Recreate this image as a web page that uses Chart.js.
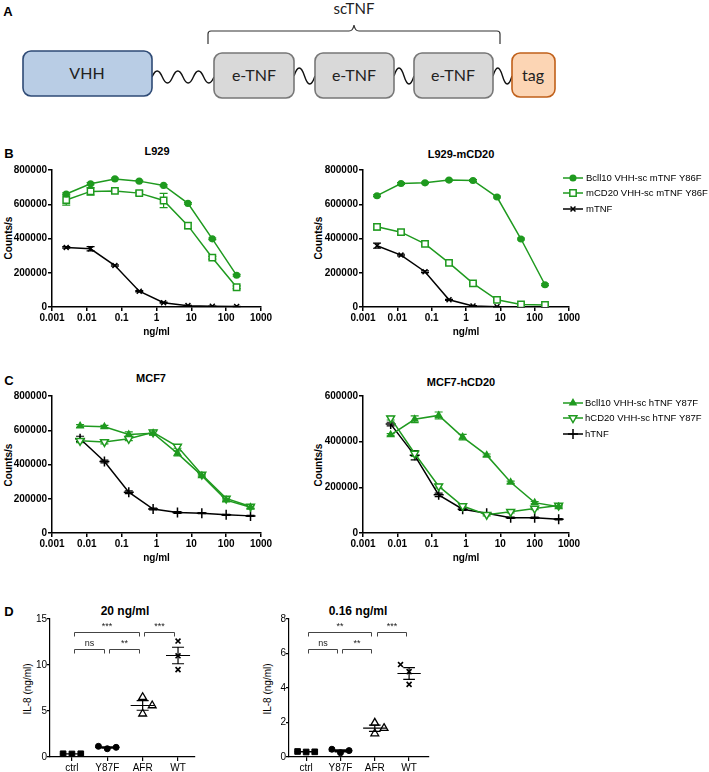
<!DOCTYPE html>
<html>
<head>
<meta charset="utf-8">
<script src="https://cdn.jsdelivr.net/npm/chart.js@4.4.1/dist/chart.umd.min.js"></script>
<style>
  body { margin: 0; background: #fff; width: 709px; height: 772px; position: relative; overflow: hidden; font-family: "Liberation Sans", Arial, sans-serif; }
  canvas { position: absolute; }
  .lbl { position: absolute; transform: translate(-50%, -50%); white-space: nowrap; color: #000; }
  .panel { font-weight: bold; font-size: 13px; }
  .ttl { font-weight: bold; font-size: 11px; }
  .ttl2 { font-weight: bold; font-size: 12px; }
  .yt { position: absolute; transform: translate(-50%, -50%) rotate(-90deg); white-space: nowrap; color: #000; }
  .yb { font-weight: bold; font-size: 10px; }
  .yr { font-size: 10px; }
  #schema { position: absolute; left: 0; top: 0; }
</style>
</head>
<body>

<svg id="schema" width="709" height="110" xmlns="http://www.w3.org/2000/svg">
  <text x="354" y="14" text-anchor="middle" font-family="Lato" font-size="15" fill="#222">scTNF</text>
  <path d="M208,44 L208,34 Q208,31 211,31 L349,31 Q353,31 354,25 Q355,31 359,31 L497,31 Q500,31 500,34 L500,44" fill="none" stroke="#333" stroke-width="1.2"/>
  <g id="waves" fill="none" stroke="#111" stroke-width="1.4"></g>
  <rect x="23" y="51" width="129" height="45" rx="8" fill="#b9cde5" stroke="#2e4a75" stroke-width="1.6"/>
  <rect x="214" y="53" width="80" height="45" rx="8" fill="#d9d9d9" stroke="#777" stroke-width="1.6"/>
  <rect x="315" y="53" width="79" height="45" rx="8" fill="#d9d9d9" stroke="#777" stroke-width="1.6"/>
  <rect x="414" y="53" width="79" height="45" rx="8" fill="#d9d9d9" stroke="#777" stroke-width="1.6"/>
  <rect x="512" y="53" width="43" height="44" rx="8" fill="#fcd5b4" stroke="#c0601a" stroke-width="1.6"/>
  <g font-family="Lato" font-size="16" fill="#222" text-anchor="middle">
    <text x="87" y="79">VHH</text>
    <text x="254" y="81">e-TNF</text>
    <text x="354" y="81">e-TNF</text>
    <text x="453" y="81">e-TNF</text>
    <text x="533" y="81">tag</text>
  </g>
</svg>

<div class="lbl panel" style="left:8px;top:11px">A</div>
<div class="lbl panel" style="left:9px;top:153px">B</div>
<div class="lbl panel" style="left:9px;top:380px">C</div>
<div class="lbl panel" style="left:9px;top:611px">D</div>

<div class="lbl ttl" style="left:157px;top:151px">L929</div>
<div class="lbl ttl" style="left:461px;top:154px">L929-mCD20</div>
<div class="lbl ttl" style="left:151px;top:378px">MCF7</div>
<div class="lbl ttl" style="left:461px;top:382px">MCF7-hCD20</div>
<div class="lbl ttl2" style="left:125px;top:611px">20 ng/ml</div>
<div class="lbl ttl2" style="left:358px;top:611px">0.16 ng/ml</div>

<div class="yt yb" style="left:8px;top:238px">Counts/s</div>
<div class="yt yb" style="left:318px;top:238px">Counts/s</div>
<div class="yt yb" style="left:8px;top:465px">Counts/s</div>
<div class="yt yb" style="left:318px;top:465px">Counts/s</div>
<div class="yt yr" style="left:27px;top:689px">IL-8 (ng/ml)</div>
<div class="yt yr" style="left:267px;top:689px">IL-8 (ng/ml)</div>

<canvas id="bLeft" width="290" height="200" style="left:0;top:140px"></canvas>
<canvas id="bRight" width="409" height="200" style="left:300px;top:140px"></canvas>
<canvas id="cLeft" width="290" height="200" style="left:0;top:366px"></canvas>
<canvas id="cRight" width="409" height="200" style="left:300px;top:366px"></canvas>
<canvas id="dLeft" width="215" height="172" style="left:0;top:600px"></canvas>
<canvas id="dRight" width="210" height="172" style="left:240px;top:600px"></canvas>

<script>
// doses (ng/ml), 5-fold dilutions
const doseB = [0.00256, 0.0128, 0.064, 0.32, 1.6, 8, 40, 200];
const doseC = [0.0064, 0.032, 0.16, 0.8, 4, 20, 100, 500];
const logTicks = [0.001, 0.01, 0.1, 1, 10, 100, 1000];

// B - L929
const l929Bcl10 = [660000, 720000, 748000, 735000, 710000, 605000, 398000, 185000];
const l929Bcl10Err = [6000, 6000, 5000, 5000, 5000, 5000, 5000, 5000];
const l929MCD20 = [625000, 675000, 678000, 665000, 622000, 475000, 288000, 115000];
const l929MCD20Err = [30000, 22000, 8000, 12000, 42000, 18000, 8000, 8000];
const l929MTNF = [348000, 340000, 242000, 92000, 25000, 8000, 4000, 3000];
const l929MTNFErr = [4000, 12000, 4000, 4000, 3000, 2000, 1000, 1000];

// B - L929-mCD20
const mcd20Bcl10 = [650000, 721000, 725000, 741000, 739000, 642000, 397000, 130000];
const mcd20Bcl10Err = [5000, 5000, 5000, 5000, 5000, 5000, 5000, 5000];
const mcd20MCD20 = [468000, 437000, 369000, 258000, 138000, 42000, 15000, 12000];
const mcd20MCD20Err = [18000, 15000, 8000, 10000, 6000, 5000, 3000, 3000];
const mcd20MTNF = [358000, 303000, 206000, 42000, 6000, 1500, 1000, 1000];
const mcd20MTNFErr = [15000, 5000, 5000, 3000, 2000, 1000, 1000, 1000];

// C - MCF7
const mcf7Bcl10 = [625000, 620000, 575000, 583000, 465000, 335000, 192000, 150000];
const mcf7Bcl10Err = [8000, 8000, 15000, 10000, 15000, 8000, 8000, 8000];
const mcf7HCD20 = [538000, 532000, 550000, 588000, 505000, 342000, 202000, 155000];
const mcf7HCD20Err = [10000, 12000, 10000, 12000, 10000, 8000, 10000, 10000];
const mcf7HTNF = [550000, 418000, 238000, 140000, 120000, 116000, 106000, 100000];
const mcf7HTNFErr = [15000, 8000, 8000, 5000, 5000, 3000, 3000, 3000];

// C - MCF7-hCD20
const hcd20Bcl10 = [430000, 498000, 515000, 420000, 341000, 222000, 133000, 115000];
const hcd20Bcl10Err = [5000, 15000, 15000, 12000, 5000, 5000, 5000, 5000];
const hcd20HCD20 = [503000, 348000, 205000, 118000, 80000, 93000, 107000, 120000];
const hcd20HCD20Err = [8000, 12000, 8000, 5000, 5000, 5000, 5000, 5000];
const hcd20HTNF = [477000, 340000, 167000, 104000, 86000, 67000, 67000, 60000];
const hcd20HTNFErr = [8000, 20000, 8000, 5000, 3000, 3000, 3000, 3000];

// D - IL-8 (ng/ml), three replicates per group
const groupsD = ['ctrl', 'Y87F', 'AFR', 'WT'];
const il8At20 = [[0.35, 0.33, 0.35], [1.16, 0.9, 1.05], [6.5, 5.6, 4.7], [12.6, 11.0, 9.5]];
const il8At016 = [[0.32, 0.29, 0.3], [0.45, 0.25, 0.37], [1.98, 1.67, 1.36], [5.36, 4.95, 4.21]];
const sig20 = [
  { a: 0, b: 2, text: '***', y: 13.6 },
  { a: 0, b: 1, text: 'ns', y: 11.7 },
  { a: 1, b: 2, text: '**', y: 11.7 },
  { a: 2, b: 3, text: '***', y: 13.6 }
];
const sig016 = [
  { a: 0, b: 2, text: '**', y: 7.25 },
  { a: 0, b: 1, text: 'ns', y: 6.26 },
  { a: 1, b: 2, text: '**', y: 6.26 },
  { a: 2, b: 3, text: '***', y: 7.25 }
];

const GREEN = '#1f9a1f';
Chart.defaults.font.family = '"Liberation Sans", Arial, sans-serif';
Chart.defaults.color = '#000';

// linker squiggles in the schematic
function wave(x1, x2, y, periods, amp) {
  const h = (x2 - x1) / (periods * 2);
  let d = 'M' + x1 + ',' + y;
  for (let i = 0; i < periods * 2; i++) {
    const sx = x1 + i * h;
    const dir = i % 2 === 0 ? -1 : 1;
    d += ' Q' + (sx + h / 2) + ',' + (y + dir * amp * 2) + ' ' + (sx + h) + ',' + y;
  }
  return d;
}
const wg = document.getElementById('waves');
[[152, 214, 77, 3, 6], [294, 315, 76, 1, 8], [394, 414, 76, 1, 8], [493, 512, 76, 1, 8]].forEach(w => {
  const p = document.createElementNS('http://www.w3.org/2000/svg', 'path');
  p.setAttribute('d', wave(w[0], w[1], w[2], w[3], w[4]));
  wg.appendChild(p);
});

// error bars (SEM) drawn under the markers
const errorBars = {
  id: 'errorBars',
  beforeDatasetsDraw(chart) {
    const { ctx, scales: { x, y } } = chart;
    chart.data.datasets.forEach(ds => {
      if (!ds.errors) return;
      ctx.save();
      ctx.strokeStyle = ds.borderColor;
      ctx.lineWidth = 1.2;
      ds.data.forEach((p, i) => {
        const e = ds.errors[i];
        const px = x.getPixelForValue(p.x);
        const t = y.getPixelForValue(p.y + e), b = y.getPixelForValue(p.y - e);
        ctx.beginPath();
        ctx.moveTo(px, t); ctx.lineTo(px, b);
        ctx.moveTo(px - 4, t); ctx.lineTo(px + 4, t);
        ctx.moveTo(px - 4, b); ctx.lineTo(px + 4, b);
        ctx.stroke();
      });
      ctx.restore();
    });
  }
};

function sideLegend(lx, ys, tx) {
  return {
    id: 'sideLegend',
    afterDraw(chart) {
      const ctx = chart.ctx;
      ctx.save();
      ctx.font = '9.5px "Liberation Sans", Arial, sans-serif';
      ctx.textBaseline = 'middle';
      chart.data.datasets.forEach((ds, i) => {
        const y = ys[i];
        ctx.strokeStyle = ds.borderColor;
        ctx.lineWidth = 1.5;
        ctx.beginPath(); ctx.moveTo(lx, y); ctx.lineTo(lx + 20, y); ctx.stroke();
        ctx.fillStyle = ds.pointBackgroundColor;
        ctx.lineWidth = ds.pointBorderWidth;
        Chart.helpers.drawPoint(ctx, { pointStyle: ds.pointStyle, radius: ds.pointRadius, rotation: ds.pointRotation || 0, borderWidth: ds.pointBorderWidth }, lx + 10, y);
        ctx.fillStyle = '#000';
        ctx.fillText(ds.label, tx, y);
      });
      ctx.restore();
    }
  };
}

function series(label, dose, vals, errs, style) {
  return Object.assign({
    label: label,
    data: dose.map((d, i) => ({ x: d, y: vals[i] })),
    errors: errs,
    showLine: true,
    borderWidth: 1.5,
    pointBorderWidth: 1.5
  }, style);
}

const axisLine = { color: '#000', width: 1.5 };
const tickGrid = { drawOnChartArea: false, tickLength: 4, color: '#000', lineWidth: 1.5 };

function doseChart(id, datasets, yMax, yW, padRight, legend) {
  new Chart(document.getElementById(id), {
    type: 'scatter',
    data: { datasets: datasets },
    options: {
      responsive: false,
      animation: false,
      devicePixelRatio: 1,
      layout: { padding: { top: 30, right: padRight, bottom: 0, left: 0 } },
      plugins: { legend: { display: false }, tooltip: { enabled: false } },
      scales: {
        x: {
          type: 'logarithmic', min: 0.001, max: 1000,
          afterBuildTicks: s => { s.ticks = logTicks.map(v => ({ value: v })); },
          afterFit: s => { s.height = 33; },
          ticks: { autoSkip: false, maxRotation: 0, padding: 1, color: '#000', font: { weight: 'bold', size: 10 }, callback: v => String(v) },
          grid: tickGrid, border: axisLine,
          title: { display: true, text: 'ng/ml', color: '#000', font: { weight: 'bold', size: 10 }, padding: { top: 0, bottom: 2 } }
        },
        y: {
          min: 0, max: yMax,
          afterFit: s => { s.width = yW; },
          ticks: { stepSize: 200000, padding: 1, color: '#000', font: { weight: 'bold', size: 10 }, callback: v => String(v) },
          grid: tickGrid, border: axisLine
        }
      }
    },
    plugins: legend ? [errorBars, legend] : [errorBars]
  });
}

const bclStyleB = { borderColor: GREEN, pointBackgroundColor: GREEN, pointStyle: 'circle', pointRadius: 2.8 };
const cd20StyleB = { borderColor: GREEN, pointBackgroundColor: '#fff', pointStyle: 'rect', pointRadius: 4.5 };
const mtnfStyle = { borderColor: '#000', pointBackgroundColor: '#000', pointStyle: 'crossRot', pointRadius: 3.5 };
const bclStyleC = { borderColor: GREEN, pointBackgroundColor: GREEN, pointStyle: 'triangle', pointRadius: 3.5 };
const cd20StyleC = { borderColor: GREEN, pointBackgroundColor: '#fff', pointStyle: 'triangle', pointRotation: 180, pointRadius: 4.5 };
const htnfStyle = { borderColor: '#000', pointBackgroundColor: '#000', pointStyle: 'cross', pointRadius: 5 };

doseChart('bLeft', [
  series('Bcll10 VHH-sc mTNF Y86F', doseB, l929Bcl10, l929Bcl10Err, bclStyleB),
  series('mCD20 VHH-sc mTNF Y86F', doseB, l929MCD20, l929MCD20Err, cd20StyleB),
  series('mTNF', doseB, l929MTNF, l929MTNFErr, mtnfStyle)
], 800000, 52, 29);

doseChart('bRight', [
  series('Bcll10 VHH-sc mTNF Y86F', doseB, mcd20Bcl10, mcd20Bcl10Err, bclStyleB),
  series('mCD20 VHH-sc mTNF Y86F', doseB, mcd20MCD20, mcd20MCD20Err, cd20StyleB),
  series('mTNF', doseB, mcd20MTNF, mcd20MTNFErr, mtnfStyle)
], 800000, 63, 140, sideLegend(263, [38, 53, 69], 286));

doseChart('cLeft', [
  series('Bcll10 VHH-sc hTNF Y87F', doseC, mcf7Bcl10, mcf7Bcl10Err, bclStyleC),
  series('hCD20 VHH-sc hTNF Y87F', doseC, mcf7HCD20, mcf7HCD20Err, cd20StyleC),
  series('hTNF', doseC, mcf7HTNF, mcf7HTNFErr, htnfStyle)
], 800000, 52, 29);

doseChart('cRight', [
  series('Bcll10 VHH-sc hTNF Y87F', doseC, hcd20Bcl10, hcd20Bcl10Err, bclStyleC),
  series('hCD20 VHH-sc hTNF Y87F', doseC, hcd20HCD20, hcd20HCD20Err, cd20StyleC),
  series('hTNF', doseC, hcd20HTNF, hcd20HTNFErr, htnfStyle)
], 600000, 63, 140, sideLegend(263, [37, 52, 68], 285));

// D - column scatter with mean +/- SEM and significance brackets
const dStyles = [
  { pointStyle: 'rect', pointRadius: 4, pointBackgroundColor: '#000', pointBorderWidth: 1 },
  { pointStyle: 'circle', pointRadius: 3, pointBackgroundColor: '#000', pointBorderWidth: 1 },
  { pointStyle: 'triangle', pointRadius: 4.5, pointBackgroundColor: '#fff', pointBorderWidth: 1.3 },
  { pointStyle: 'crossRot', pointRadius: 3.5, pointBackgroundColor: '#000', pointBorderWidth: 1.6 }
];

function meanSem(chart) {
  const { ctx, scales: { x, y } } = chart;
  ctx.save();
  ctx.strokeStyle = '#000';
  ctx.lineWidth = 1.2;
  chart.data.datasets.forEach((ds, gi) => {
    const v = ds.data.map(p => p.y);
    const m = v.reduce((a, b) => a + b, 0) / v.length;
    const sd = Math.sqrt(v.reduce((a, b) => a + (b - m) * (b - m), 0) / (v.length - 1));
    const sem = sd / Math.sqrt(v.length);
    const ym = y.getPixelForValue(m), yt = y.getPixelForValue(m + sem), yb = y.getPixelForValue(m - sem);
    ctx.beginPath();
    ctx.moveTo(x.getPixelForValue(gi - 0.34), ym); ctx.lineTo(x.getPixelForValue(gi + 0.34), ym);
    const xc = x.getPixelForValue(gi), cl = x.getPixelForValue(gi - 0.17), cr = x.getPixelForValue(gi + 0.17);
    ctx.moveTo(xc, yt); ctx.lineTo(xc, yb);
    ctx.moveTo(cl, yt); ctx.lineTo(cr, yt);
    ctx.moveTo(cl, yb); ctx.lineTo(cr, yb);
    ctx.stroke();
  });
  ctx.restore();
}

function brackets(list) {
  return {
    id: 'brackets',
    afterDraw(chart) {
      const { ctx, scales: { x, y } } = chart;
      ctx.save();
      ctx.strokeStyle = '#444';
      ctx.lineWidth = 1;
      ctx.fillStyle = '#222';
      ctx.font = '9px "Liberation Sans", Arial, sans-serif';
      ctx.textAlign = 'center';
      ctx.textBaseline = 'bottom';
      list.forEach(s => {
        const x1 = Math.round(x.getPixelForValue(s.a + 0.05)) + 0.5;
        const x2 = Math.round(x.getPixelForValue(s.b - 0.1)) + 0.5;
        const yp = Math.round(y.getPixelForValue(s.y)) + 0.5;
        ctx.beginPath();
        ctx.moveTo(x1, yp + 4); ctx.lineTo(x1, yp); ctx.lineTo(x2, yp); ctx.lineTo(x2, yp + 4);
        ctx.stroke();
        ctx.fillText(s.text, (x1 + x2) / 2, yp - 1);
      });
      ctx.restore();
    }
  };
}

function il8Chart(id, values, jitter, sig, yMax, yStep, xMin, xMax, yW, padRight) {
  new Chart(document.getElementById(id), {
    type: 'scatter',
    data: {
      datasets: groupsD.map((g, gi) => Object.assign({
        label: g,
        data: values[gi].map((v, k) => ({ x: gi + jitter[gi][k], y: v })),
        borderColor: '#000'
      }, dStyles[gi]))
    },
    options: {
      responsive: false,
      animation: false,
      devicePixelRatio: 1,
      layout: { padding: { top: 19, right: padRight, bottom: 0, left: 0 } },
      plugins: { legend: { display: false }, tooltip: { enabled: false } },
      scales: {
        x: {
          type: 'linear', min: xMin, max: xMax,
          afterBuildTicks: s => { s.ticks = groupsD.map((g, i) => ({ value: i })); },
          afterFit: s => { s.height = 15; },
          ticks: { autoSkip: false, maxRotation: 0, padding: 1, color: '#000', font: { size: 10 }, callback: v => groupsD[v] },
          grid: { drawOnChartArea: false, tickLength: 4, color: '#000', lineWidth: 1.2 },
          border: { color: '#000', width: 1.2 }
        },
        y: {
          min: 0, max: yMax,
          afterFit: s => { s.width = yW; },
          ticks: { stepSize: yStep, padding: 0, color: '#000', font: { size: 10 } },
          grid: { drawOnChartArea: false, tickLength: 3, color: '#000', lineWidth: 1.2 },
          border: { color: '#000', width: 1.2 }
        }
      }
    },
    plugins: [{ id: 'meanSem', afterDatasetsDraw: meanSem }, brackets(sig)]
  });
}

il8Chart('dLeft', il8At20,
  [[-0.25, 0, 0.25], [-0.25, 0, 0.25], [0, 0.27, 0], [0, 0, 0]],
  sig20, 15, 5, -0.62, 3.48, 50, 20);

il8Chart('dRight', il8At016,
  [[-0.25, 0, 0.25], [-0.25, 0, 0.25], [0, 0.27, 0], [-0.25, 0, 0]],
  sig016, 8, 2, -0.5, 3.58, 49, 21);
</script>
</body>
</html>
